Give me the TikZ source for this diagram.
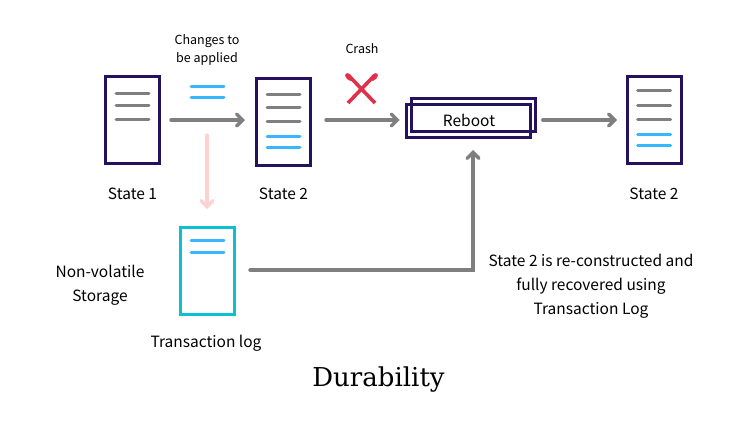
\documentclass[tikz,border=0pt]{standalone}
\usepackage{fontspec}
\setmainfont{Noto Sans CJK SC}
\newfontfamily\titlefont{DejaVu Serif}
\usetikzlibrary{arrows.meta,positioning}
\definecolor{docpurple}{HTML}{25125F}
\definecolor{logcyan}{HTML}{0CC0D2}
\definecolor{flowgrey}{HTML}{7F7F7F}
\definecolor{newblue}{HTML}{38B6FF}
\definecolor{softpink}{HTML}{FFD2D2}
\definecolor{crashred}{HTML}{E0304A}
\tikzset{
  docbox/.style={draw=docpurple,line width=3pt,minimum width=54pt,minimum height=87pt,inner sep=0pt},
  logbox/.style={docbox,draw=logcyan},
  rebootbox/.style={draw=docpurple,line width=2.6pt,minimum width=124pt,minimum height=32.5pt,inner sep=0pt},
  flow/.style={-{Straight Barb[length=6pt,width=12pt,line cap=round]},line width=3.4pt,draw=flowgrey,line cap=round},
  oldline/.style={line width=3pt,draw=flowgrey,line cap=round},
  newline/.style={line width=3pt,draw=newblue,line cap=round},
  caption/.style={font=\fontsize{15.5}{24}\selectfont,align=center,inner sep=0pt},
  smallcaption/.style={font=\fontsize{12.5}{18.5}\selectfont,align=center,inner sep=0pt}
}
\begin{document}
\begin{tikzpicture}[x=1pt,y=-1pt]
\useasboundingbox (0,0) rectangle (751,424);
\node[docbox] (state1) at (132.5,120) {};
\node[docbox] (state2) at (283.5,122) {};
\node[docbox] (state3) at (654,120) {};
\node[logbox] (log) at (207.5,271) {};
\node[rebootbox] (rebootback) at (473.5,115) {};
\node[rebootbox] (reboot) at (468.5,121) {};
\node[font=\fontsize{15.5}{18}\selectfont,inner sep=0pt] (reboottext) at (469,120) {Reboot};
% document lines
\foreach \y in {93,105,119.5} \draw[oldline] (116,\y)--(149,\y);
\foreach \y in {94.5,107,121.5} \draw[oldline] (267,\y)--(300,\y);
\foreach \y in {136.5,147} \draw[newline] (267,\y)--(300,\y);
\foreach \y in {90.5,105,119.5} \draw[oldline] (637.5,\y)--(670.5,\y);
\foreach \y in {134.5,145.5} \draw[newline] (637.5,\y)--(670.5,\y);
\foreach \y in {86,97.5} \draw[newline] (191,\y)--(224,\y);
\foreach \y in {240.5,252} \draw[newline] (191,\y)--(224,\y);
% labels
\node[caption] (state1label) at (132.5,193.5) {State 1};
\node[caption] (state2label) at (283.5,193.5) {State 2};
\node[caption] (state3label) at (654,193.5) {State 2};
\node[caption] (loglabel) at (206,343.5) {Transaction log};
\node[caption] (storagelabel) at (100,285) {Non-volatile\\Storage};
\node[smallcaption] (changeslabel) at (207,50) {Changes to\\be applied};
\node[smallcaption] (crashlabel) at (362,49) {Crash};
\node[caption] (recoverlabel) at (591,286) {State 2 is re-constructed and\\fully recovered using\\Transaction Log};
\node[font=\titlefont\fontsize{26}{30}\selectfont,inner sep=0pt] (title) at (378.5,379) {Durability};
% crash mark
\draw[crashred,line width=3.6pt] (348,103)--(372,78);
\draw[crashred,line width=3.6pt] (375,103)--(351,78);
\fill[crashred,rotate around={-45:(374,77)}] (374,77) ellipse (2.8pt and 4.8pt);
\fill[crashred,rotate around={45:(349,77)}] (349,77) ellipse (2.8pt and 4.8pt);
% connectors
\coordinate (crashend) at (reboot.west |- state1.east);
\coordinate (turn) at (473,270);
\draw[flow,shorten <=10pt,shorten >=10pt] (state1.east)--(state1.east -| state2.west);
\draw[flow,shorten <=14pt,shorten >=5.5pt] ([yshift=2pt]state2.east)--(crashend);
\draw[flow,shorten <=6pt,shorten >=8.5pt] (rebootback.east |- state3.west)--(state3.west);
\draw[flow,draw=softpink,shorten <=2pt,shorten >=17pt] (207,133)--(log.north -| 207,0);
\draw[flow,shorten <=14pt] ([yshift=1pt]log.east)--(turn)--(473,150);
\end{tikzpicture}
\end{document}
